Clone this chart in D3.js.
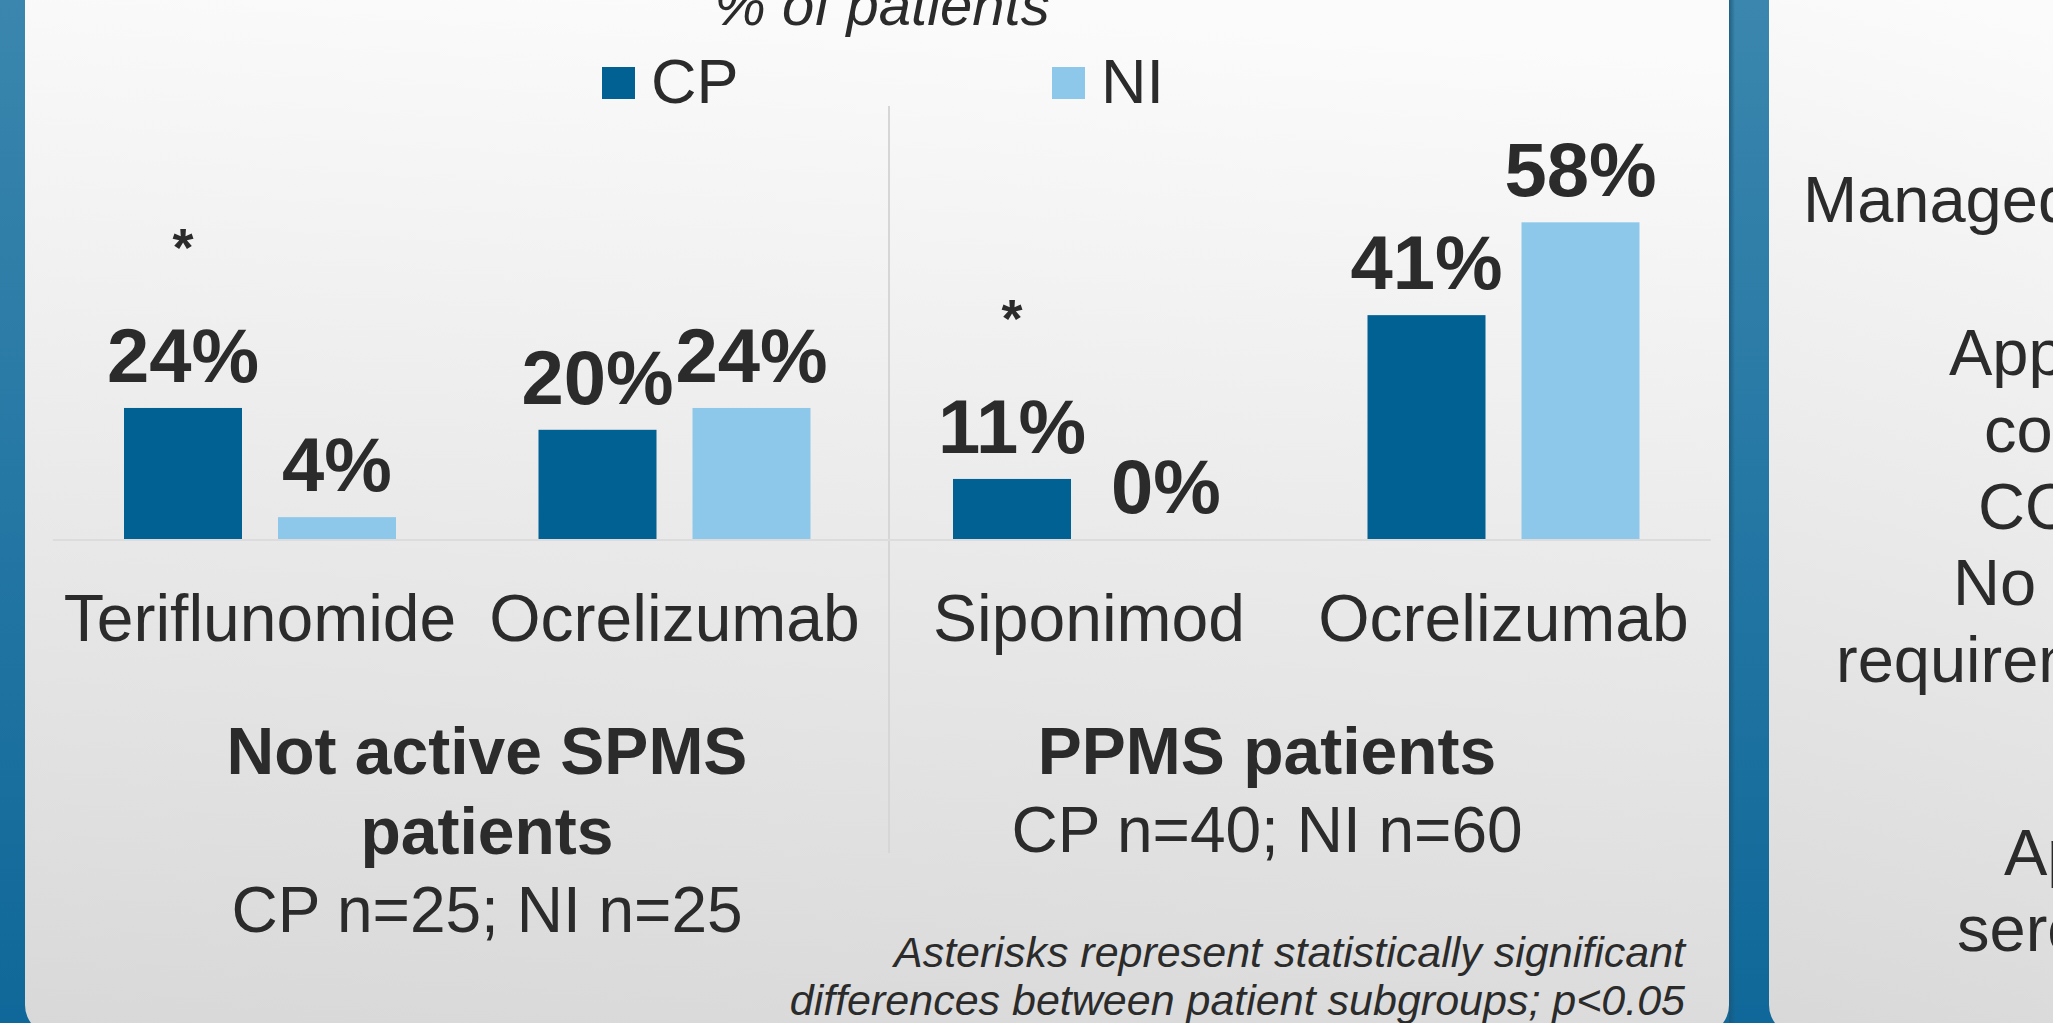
<!DOCTYPE html>
<html>
<head>
<meta charset="utf-8">
<script src="https://cdn.jsdelivr.net/npm/d3@7"></script>
<style>
  html, body { margin: 0; padding: 0; overflow: hidden; background: #1a6d9e; }
  svg { display: block; }
  text { font-family: 'Liberation Sans', Arial, sans-serif; fill: #2b2b2b; font-variant-ligatures: none; }
</style>
</head>
<body>
<script>
// chart data
const categories = ['Teriflunomide', 'Ocrelizumab', 'Siponimod', 'Ocrelizumab'];
const series = ['CP', 'NI'];
const cpValues = [24, 20, 11, 41];
const niValues = [4, 24, 0, 58];
const significant = [true, false, true, false];
const groupTitles = [['Not active SPMS', 'patients'], ['PPMS patients']];
const groupSizes = ['CP n=25; NI n=25', 'CP n=40; NI n=60'];
const footnote = ['Asterisks represent statistically significant', 'differences between patient subgroups; p<0.05'];
const sideText = ['Managed', 'Appropriate', 'considered', 'COVID-19', 'No', 'requirement', 'Appropriate', 'serology'];

const W = 2053, H = 1023;
const COLORS = { CP: '#006192', NI: '#8dc8eb' };
const BASE_Y = 539;

const svg = d3.select('body').append('svg').attr('width', W).attr('height', H);
const defs = svg.append('defs');

const blue = defs.append('linearGradient').attr('id', 'blue').attr('x1', 0).attr('y1', 0).attr('x2', 0).attr('y2', 1);
blue.append('stop').attr('offset', 0).attr('stop-color', '#3a86ae');
blue.append('stop').attr('offset', 1).attr('stop-color', '#0f6899');

const panel = defs.append('linearGradient').attr('id', 'panel').attr('x1', 0.1).attr('y1', 0).attr('x2', 0).attr('y2', 1);
panel.append('stop').attr('offset', 0).attr('stop-color', '#fbfbfb');
panel.append('stop').attr('offset', 1).attr('stop-color', '#d8d8d8');

const edge = defs.append('linearGradient').attr('id', 'edge').attr('x1', 0).attr('y1', 0).attr('x2', 1).attr('y2', 0);
edge.append('stop').attr('offset', 0).attr('stop-color', '#1b5577').attr('stop-opacity', 0.8);
edge.append('stop').attr('offset', 1).attr('stop-color', '#1b5577').attr('stop-opacity', 0);

// background + panels
svg.append('rect').attr('width', W).attr('height', H).attr('fill', 'url(#blue)');
svg.append('rect').attr('x', 1729).attr('y', 0).attr('width', 6).attr('height', H).attr('fill', 'url(#edge)');
svg.append('rect').attr('x', 25).attr('y', -40).attr('width', 1704).attr('height', 1075)
  .attr('rx', 30).attr('fill', 'url(#panel)');
svg.append('rect').attr('x', 1769).attr('y', -40).attr('width', 400).attr('height', 1075)
  .attr('rx', 30).attr('fill', 'url(#panel)');

// scales
const x0 = d3.scaleBand()
  .domain(d3.range(categories.length))
  .range([52.75, 1710.75])
  .paddingInner(0.3438)
  .paddingOuter(0.1719);
const x1 = d3.scaleBand()
  .domain(series)
  .range([0, x0.bandwidth()])
  .paddingInner(0.2338);
const y = d3.scaleLinear().domain([0, 100]).range([BASE_Y, BASE_Y - 546]);

const rows = categories.map((c, i) => ({ i, cat: c, values: [
  { key: 'CP', v: cpValues[i] },
  { key: 'NI', v: niValues[i] }
] }));

const g = svg.append('g');

// title
g.append('text')
  .attr('x', 882).attr('y', 25)
  .attr('text-anchor', 'middle')
  .style('font-size', '58px').style('font-style', 'italic')
  .text('% of patients');

// legend
const legendX = [602, 1052];
const leg = g.selectAll('g.legend').data(series).join('g').attr('class', 'legend')
  .attr('transform', (d, i) => 'translate(' + legendX[i] + ',67)');
leg.append('rect').attr('width', 33).attr('height', 32).attr('fill', (d) => COLORS[d]);
leg.append('text').attr('x', 49).attr('y', 36).style('font-size', '63px').text((d) => d);

// divider + axis line
g.append('line').attr('x1', 889).attr('x2', 889).attr('y1', 106).attr('y2', 853)
  .attr('stroke', '#d6d6d6').attr('stroke-width', 2);
g.append('line').attr('x1', x0.range()[0]).attr('x2', x0.range()[1]).attr('y1', BASE_Y + 1).attr('y2', BASE_Y + 1)
  .attr('stroke', '#dcdcdc').attr('stroke-width', 2);

// bars
const grp = g.selectAll('g.cat').data(rows).join('g').attr('class', 'cat')
  .attr('transform', (d) => 'translate(' + x0(d.i) + ',0)');

grp.selectAll('rect.bar').data((d) => d.values).join('rect').attr('class', 'bar')
  .attr('x', (d) => x1(d.key))
  .attr('width', x1.bandwidth())
  .attr('y', (d) => y(d.v))
  .attr('height', (d) => y(0) - y(d.v))
  .attr('fill', (d) => COLORS[d.key]);

grp.selectAll('text.val').data((d) => d.values).join('text').attr('class', 'val')
  .attr('x', (d) => x1(d.key) + x1.bandwidth() / 2)
  .attr('y', (d) => y(d.v) - 26)
  .attr('text-anchor', 'middle')
  .style('font-size', '76px').style('font-weight', 'bold')
  .text((d) => d.v + '%');

// significance asterisks over CP bar
grp.filter((d) => significant[d.i]).append('text')
  .attr('x', x1('CP') + x1.bandwidth() / 2)
  .attr('y', (d) => y(d.values[0].v) - 26 - 116)
  .attr('text-anchor', 'middle')
  .style('font-size', '54px').style('font-weight', 'bold')
  .text('*');

// category labels
grp.append('text')
  .attr('x', x0.bandwidth() / 2)
  .attr('y', 641)
  .attr('text-anchor', 'middle')
  .style('font-size', '66px')
  .text((d) => d.cat);

// group titles
const groupX = [487, 1267];
groupTitles.forEach((lines, gi) => {
  lines.forEach((t, li) => {
    g.append('text')
      .attr('x', groupX[gi]).attr('y', 774 + li * 80)
      .attr('text-anchor', 'middle')
      .style('font-size', '66px').style('font-weight', 'bold')
      .text(t);
  });
  g.append('text')
    .attr('x', groupX[gi]).attr('y', 774 + lines.length * 80 - 2)
    .attr('text-anchor', 'middle')
    .style('font-size', '64px')
    .text(groupSizes[gi]);
});

// footnote
footnote.forEach((t, i) => {
  g.append('text')
    .attr('x', 1685).attr('y', 967 + i * 48)
    .attr('text-anchor', 'end')
    .style('font-size', '43px').style('font-style', 'italic')
    .text(t);
});

// neighbouring panel (clipped by the page edge)
const sideX = [1803, 1949, 1984, 1978, 1953, 1836, 2004, 1957];
const sideY = [222, 375, 452, 529, 605, 682, 875, 951];
sideText.forEach((t, i) => {
  g.append('text').attr('x', sideX[i]).attr('y', sideY[i])
    .style('font-size', '65px').text(t);
});
</script>
</body>
</html>
